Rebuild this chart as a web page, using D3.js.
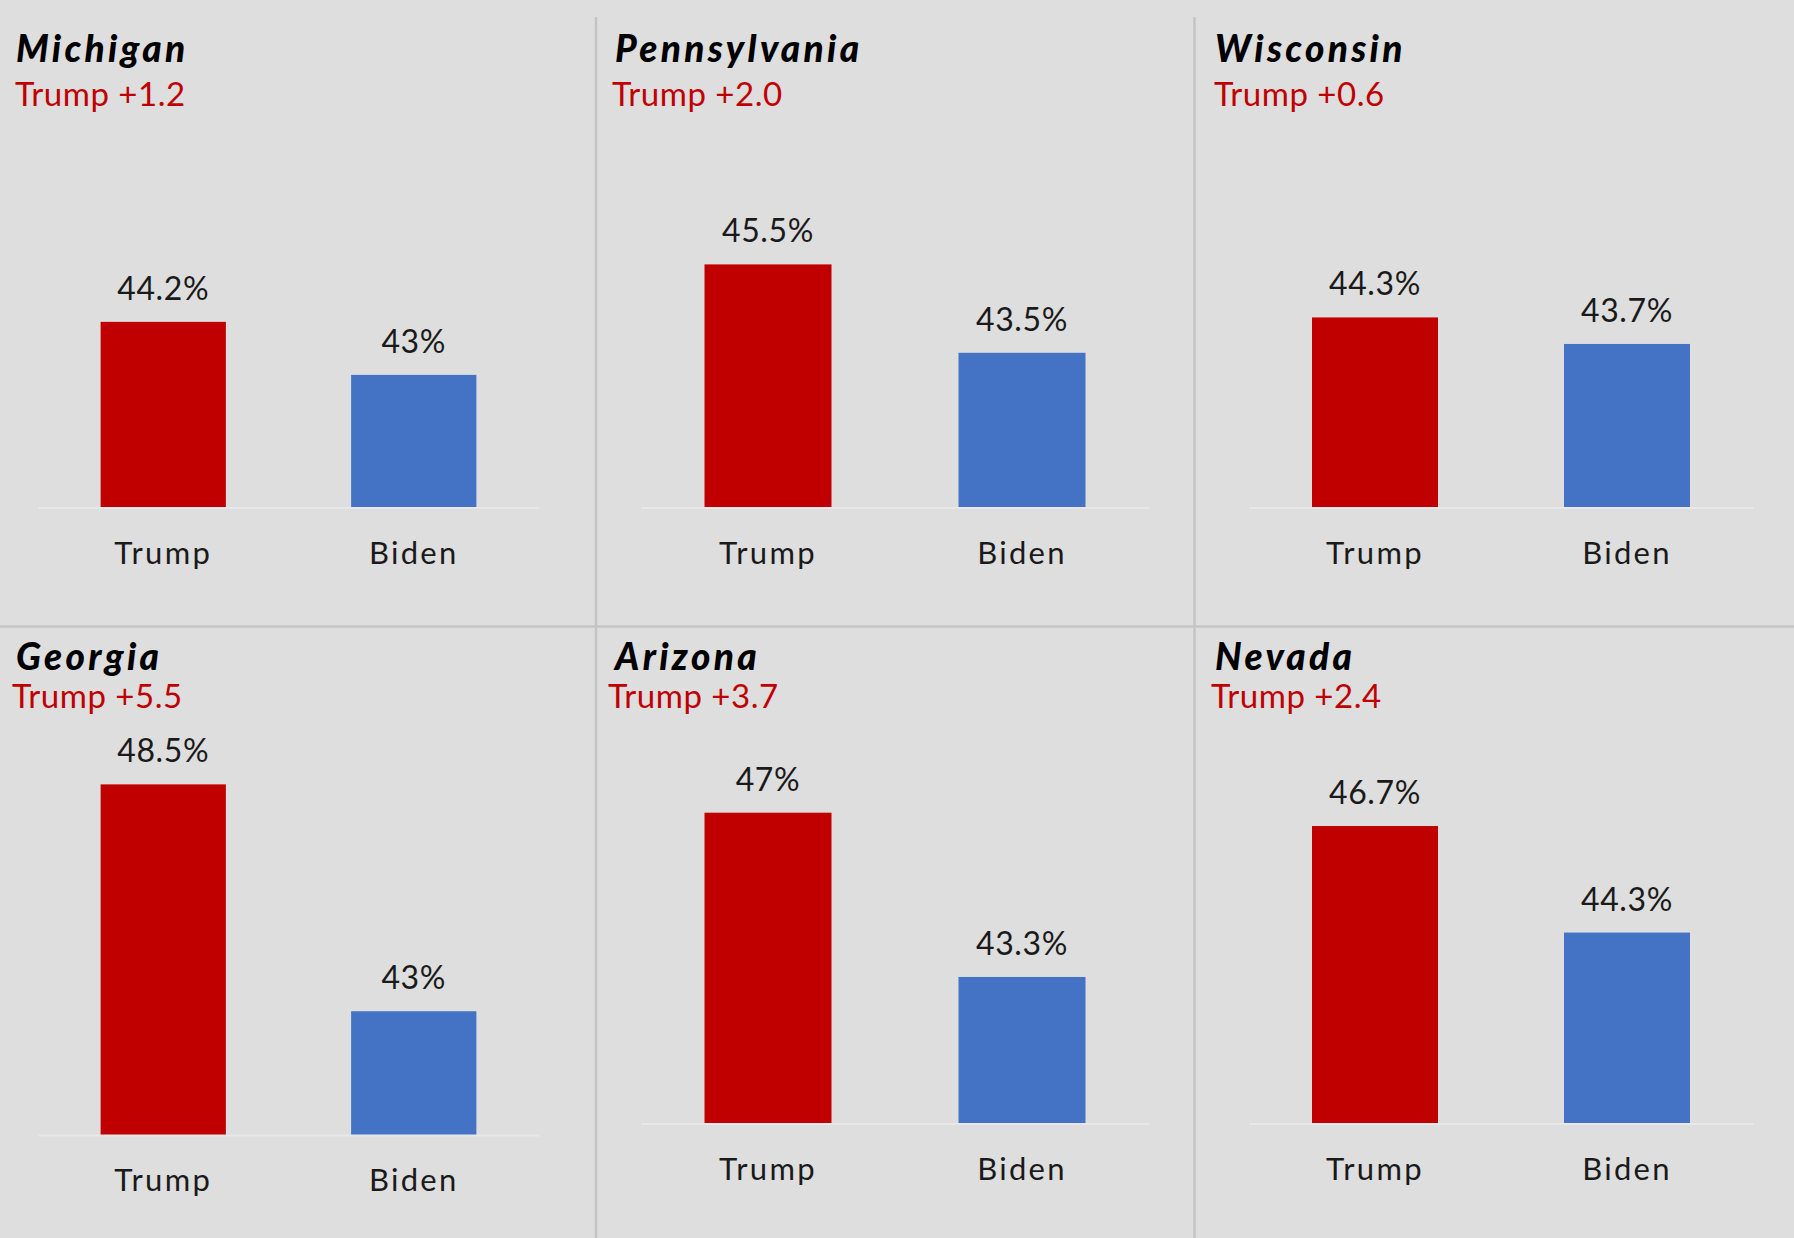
<!DOCTYPE html>
<html>
<head>
<meta charset="utf-8">
<script src="https://cdn.jsdelivr.net/npm/d3@7"></script>
<style>
  html, body { margin: 0; padding: 0; background: #dedede; }
  svg { display: block; }
  text { font-family: 'Lato', sans-serif; }
</style>
</head>
<body>
<div id="chart"></div>
<script>
// data
const states = ['Michigan', 'Pennsylvania', 'Wisconsin', 'Georgia', 'Arizona', 'Nevada']
const candidates = ['Trump', 'Biden']
const trumpValues = [44.2, 45.5, 44.3, 48.5, 47, 46.7]
const bidenValues = [43, 43.5, 43.7, 43, 43.3, 44.3]
const marginLabels = ['Trump +1.2', 'Trump +2.0', 'Trump +0.6', 'Trump +5.5', 'Trump +3.7', 'Trump +2.4']

const width = 1794
const height = 1238
const colors = { Trump: '#c00000', Biden: '#4472c4' }

// layout of each small chart (axis extent, plot top/bottom, title spots)
const cols = [
  { x0: 38, x1: 539, titleX: 16 },
  { x0: 641, x1: 1149, titleX: 615 },
  { x0: 1249, x1: 1753, titleX: 1215 },
]
const panelLayout = [
  { col: 0, base: 507.5, top: 65.5, titleY: 62, subX: 15, subY: 106 },
  { col: 1, base: 507.5, top: 65.5, titleY: 62, subX: 612, subY: 106 },
  { col: 2, base: 507.5, top: 65.5, titleY: 62, subX: 1214, subY: 106 },
  { col: 0, base: 1135, top: 722.5, titleY: 670, subX: 12, subY: 708 },
  { col: 1, base: 1123.5, top: 679.5, titleY: 670, subX: 608, subY: 708 },
  { col: 2, base: 1123.5, top: 679.5, titleY: 670, subX: 1211, subY: 708 },
]

const svg = d3.select('#chart')
  .append('svg')
  .attr('width', width)
  .attr('height', height)

svg.append('rect')
  .attr('width', width)
  .attr('height', height)
  .attr('fill', '#dedede')

// panel dividers
svg.append('line')
  .attr('x1', 0).attr('x2', width)
  .attr('y1', 626.5).attr('y2', 626.5)
  .attr('stroke', '#c4c4c4')
  .attr('stroke-width', 2.5)
;[596, 1194.5].forEach(x => {
  svg.append('line')
    .attr('x1', x).attr('x2', x)
    .attr('y1', 17).attr('y2', height)
    .attr('stroke', '#c4c4c4')
    .attr('stroke-width', 2.5)
})

states.forEach((state, i) => {
  const lay = panelLayout[i]
  const col = cols[lay.col]
  const rows = candidates.map((c, j) => ({
    name: c,
    value: j === 0 ? trumpValues[i] : bidenValues[i],
  }))

  const x = d3.scaleBand()
    .domain(candidates)
    .range([col.x0, col.x1])
    .paddingInner(0.5)
    .paddingOuter(0.25)
  const y = d3.scaleLinear()
    .domain([40, 50])
    .range([lay.base, lay.top])

  const g = svg.append('g')

  g.append('text')
    .attr('x', col.titleX)
    .attr('y', lay.titleY)
    .attr('font-size', 37)
    .attr('font-weight', 900)
    .attr('font-style', 'italic')
    .attr('letter-spacing', 3.3)
    .attr('fill', '#000')
    .text(state)

  g.append('text')
    .attr('x', lay.subX)
    .attr('y', lay.subY)
    .attr('font-size', 33)
    .attr('letter-spacing', 0.5)
    .attr('fill', '#c00000')
    .text(marginLabels[i])

  g.selectAll('rect.bar')
    .data(rows)
    .enter()
    .append('rect')
    .attr('class', 'bar')
    .attr('x', d => x(d.name))
    .attr('width', x.bandwidth())
    .attr('y', d => y(d.value))
    .attr('height', d => y(40) - y(d.value))
    .attr('fill', d => colors[d.name])

  g.selectAll('text.val')
    .data(rows)
    .enter()
    .append('text')
    .attr('class', 'val')
    .attr('x', d => x(d.name) + x.bandwidth() / 2)
    .attr('y', d => y(d.value) - 22)
    .attr('text-anchor', 'middle')
    .attr('font-size', 32)
    .attr('letter-spacing', 0.6)
    .attr('fill', '#1a1a1a')
    .text(d => d.value + '%')

  const axis = g.append('g')
    .attr('transform', `translate(0, ${lay.base})`)
    .call(d3.axisBottom(x).tickSize(0))
  axis.select('.domain')
    .attr('stroke', '#e8e8e8')
    .attr('stroke-width', 2)
  axis.selectAll('.tick text')
    .attr('y', 56)
    .attr('dy', null)
    .attr('font-size', 31)
    .attr('font-family', 'Lato, sans-serif')
    .attr('letter-spacing', 2.3)
    .attr('fill', '#1a1a1a')
})
</script>
</body>
</html>
